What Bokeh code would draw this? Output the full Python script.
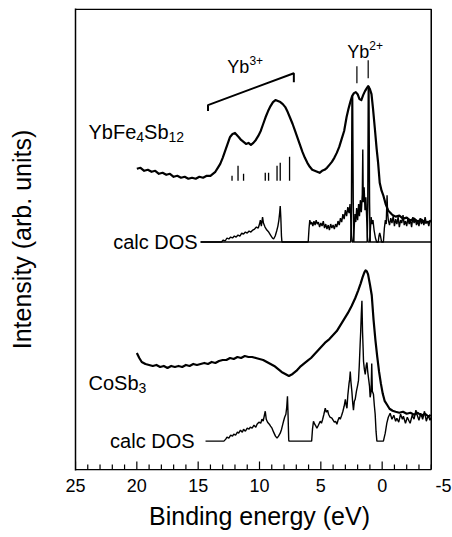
from bokeh.plotting import figure
from bokeh.models import Range1d, Label, FixedTicker
from bokeh.embed import file_html
from bokeh.resources import INLINE

# ---------------- data (binding energy in eV, intensity in arb. units) ----------------
ybfe_ev = [20.0, 19.7, 19.4, 19.1, 18.8, 18.5, 18.2, 17.9, 17.6, 17.3, 17.0, 16.7, 16.4, 16.1,
           15.8, 15.5, 15.2, 14.9, 14.6, 14.3, 14.0, 13.8, 13.6, 13.4, 13.2, 13.0, 12.8, 12.6,
           12.4, 12.2, 12.0, 11.85, 11.7, 11.5, 11.3, 11.1, 10.9, 10.7, 10.5, 10.3, 10.1, 9.9,
           9.7, 9.5, 9.3, 9.1, 8.9, 8.7, 8.5, 8.3, 8.1, 7.9, 7.7, 7.5, 7.3, 7.1, 6.9, 6.7, 6.5,
           6.3, 6.1, 5.9, 5.7, 5.5, 5.3, 5.1, 4.9, 4.7, 4.5, 4.3, 4.1, 3.9, 3.7, 3.5, 3.3, 3.1,
           2.9, 2.75, 2.6, 2.45, 2.3, 2.15, 2.0, 1.85, 1.7, 1.55, 1.4, 1.25, 1.14, 1.0, 0.87,
           0.75, 0.6, 0.45, 0.33, 0.2, 0.05, -0.1, -0.3, -0.5, -0.8, -1.1, -1.4, -1.7, -2.0,
           -2.3, -2.6, -2.9, -3.2, -3.5, -3.9]
ybfe_int = [302, 303, 300, 301, 299, 300, 297, 298, 296, 297, 294, 295, 293, 294,
            292, 293, 292, 294, 293, 295, 295, 297, 299, 303, 307, 313, 320, 327,
            334, 337, 338, 336, 334, 331, 329, 327, 328, 326, 328, 331, 335, 340,
            347, 354, 360, 365, 369, 371, 370, 369, 367, 364, 359, 353, 347, 340, 333, 326, 319,
            313, 308, 304, 301, 300, 299, 298, 300, 301, 303, 306, 309, 313, 318, 324, 332, 340,
            354, 362, 369, 375, 378, 379, 377, 372, 371, 376, 380, 383, 385, 382, 377,
            363, 343, 322, 308, 288, 280, 275, 266, 260, 256, 254, 255, 252, 253,
            250, 252, 249, 251, 248, 249]

ybfe_dos_ev = [14.8, 13.1, 12.95, 12.8, 12.65, 12.5, 12.35, 12.2, 12.05, 11.9, 11.75, 11.6, 11.45,
               11.3, 11.15, 11.0, 10.85, 10.7, 10.55, 10.4, 10.25, 10.1, 10.0, 9.93, 9.85, 9.75,
               9.68, 9.55, 9.4, 9.25, 9.1, 8.95, 8.85, 8.72, 8.6, 8.5, 8.42, 8.35, 8.31, 8.26,
               8.21, 8.17, 6.03, 5.96, 5.9, 5.82, 5.74, 5.65, 5.56, 5.47, 5.38, 5.29, 5.2, 5.1,
               5.0, 4.9, 4.8, 4.7, 4.6, 4.5, 4.4, 4.3, 4.2, 4.1, 4.0, 3.9, 3.8, 3.7, 3.6, 3.5,
               3.4, 3.3, 3.2, 3.1, 3.0, 2.9, 2.8, 2.7, 2.62, 2.55, 2.5, 2.45, 2.35, 2.3, 2.22,
               2.15, 2.08, 2.0, 1.92, 1.85, 1.78, 1.7, 1.62, 1.58, 1.54, 1.47, 1.4, 1.33, 1.25,
               1.2, 1.15, 1.02, 0.96, 0.9, 0.82, 0.75, 0.66, 0.55, 0.45, 0.32, 0.26, 0.2, 0.12,
               0.05, -0.1, -0.18, -0.26, -0.33, -0.4, -0.44, -0.5, -0.6, -0.7, -0.8, -0.9, -1.0,
               -1.1, -1.2, -1.3, -1.4, -1.5, -1.6, -1.7, -1.8, -1.9, -2.0, -2.1, -2.2, -2.3, -2.4,
               -2.5, -2.6, -2.7, -2.8, -2.9, -3.0, -3.1, -3.2, -3.3, -3.4, -3.5, -3.6, -3.7, -3.8,
               -3.9, -4.0]
ybfe_dos = [0, 0, 2, 1, 4, 3, 5, 4, 6, 5, 7, 6, 9,
            8, 10, 9, 11, 10, 12, 13, 15, 14, 18, 22, 16, 25,
            19, 15, 12, 10, 7, 4, 3, 6, 11, 16, 22, 30, 36, 24,
            6, 0, 0, 14, 22, 18, 20, 16, 21, 17, 22, 18, 20, 15,
            19, 16, 21, 14, 18, 13, 17, 12, 18, 14, 17, 13, 18, 15, 21, 17,
            24, 20, 28, 23, 32, 26, 35, 29, 38, 22, 8, 0, 0, 10, 28,
            20, 34, 22, 38, 26, 42, 30, 48, 93, 40, 55, 32, 45, 20,
            5, 0, 0, 12, 25, 18, 22, 12, 4, 0, 0, 6, 9, 5,
            0, 0, 14, 22, 18, 47, 30, 22, 17, 24, 19, 26, 16,
            23, 18, 25, 15, 22, 19, 27, 17, 21, 16, 24, 18, 22, 15,
            25, 19, 23, 17, 21, 16, 24, 18, 22, 17, 25, 19, 21, 16,
            22, 20]

ybfe_4f_ev = [14.8, 2.56, 2.5, 2.46, 2.41, 2.36, 2.31, 1.22, 1.17, 1.13, 1.08, 1.03, 0.98, -4.0]
ybfe_4f = [0, 0, 40, 146, 146, 40, 0, 0, 40, 156, 156, 40, 0, 0]

mult_ev = [12.24, 11.75, 11.3, 9.53, 9.26, 8.57, 8.31, 7.55]
mult_h = [5, 15, 7, 8, 8, 15, 18, 24]

cosb_ev = [20.0, 19.8, 19.6, 19.3, 19.0, 18.7, 18.4, 18.1, 17.8, 17.5, 17.2, 16.9, 16.6, 16.3,
           16.0, 15.7, 15.4, 15.1, 14.8, 14.5, 14.2, 13.9, 13.6, 13.3, 13.0, 12.7, 12.4, 12.1,
           11.8, 11.5, 11.2, 10.9, 10.6, 10.3, 10.0, 9.7, 9.4, 9.1, 8.8, 8.5, 8.2, 7.9, 7.6,
           7.3, 7.0, 6.7, 6.4, 6.1, 5.8, 5.5, 5.2, 4.9, 4.6, 4.3, 4.0, 3.7, 3.4, 3.1, 2.8, 2.5,
           2.2, 1.95, 1.75, 1.6, 1.45, 1.35, 1.25, 1.15, 1.0, 0.85, 0.7, 0.55, 0.4, 0.25, 0.1,
           -0.05, -0.2, -0.4, -0.6, -0.85, -1.1, -1.4, -1.7, -2.0, -2.3, -2.6, -2.9, -3.2, -3.5,
           -3.8, -3.95]
cosb_int = [117, 112, 108, 106, 105, 104, 105, 103, 104, 102, 104, 103, 104, 103,
            105, 104, 106, 105, 106, 107, 106, 108, 107, 109, 110, 110, 112, 111,
            113, 112, 114, 113, 113, 112, 111, 110, 108, 106, 104, 101, 98, 96, 94,
            96, 99, 103, 106, 109, 112, 116, 120, 124, 128, 131, 135, 139, 145, 151, 157, 164,
            172, 180, 187, 193, 198, 200, 199, 196, 186, 175, 150, 130, 113, 98, 86,
            76, 69, 65, 61, 59, 58, 57, 58, 56, 57, 55, 57, 54, 56,
            53, 55]

cosb_dos_ev = [14.4, 12.9, 12.75, 12.65, 12.5, 12.35, 12.2, 12.1, 11.95, 11.8, 11.7, 11.55, 11.4,
               11.3, 11.15, 11.0, 10.85, 10.75, 10.6, 10.45, 10.3, 10.2, 10.05, 9.9, 9.8, 9.7,
               9.6, 9.53, 9.45, 9.34, 9.2, 9.1, 8.98, 8.85, 8.7, 8.57, 8.45, 8.31, 8.2, 8.1, 8.04,
               7.95, 7.85, 7.78, 7.72, 7.68, 7.62, 7.6, 5.75, 5.68, 5.6, 5.5, 5.4, 5.32, 5.2, 5.05,
               4.95, 4.85, 4.75, 4.64, 4.55, 4.45, 4.37, 4.25, 4.1, 4.0, 3.9, 3.8, 3.69, 3.6, 3.5,
               3.42, 3.3, 3.2, 3.1, 3.0, 2.93, 2.87, 2.8, 2.7, 2.65, 2.6, 2.55, 2.47, 2.4, 2.34,
               2.27, 2.2, 2.1, 2.0, 1.93, 1.87, 1.8, 1.75, 1.7, 1.65, 1.6, 1.55, 1.52, 1.45, 1.38,
               1.3, 1.24, 1.18, 1.1, 1.03, 0.98, 0.9, 0.85, 0.8, 0.71, 0.64, 0.57, 0.5, 0.43, -0.1,
               -0.25, -0.38, -0.5, -0.65, -0.8, -0.95, -1.1, -1.2, -1.35, -1.5, -1.65, -1.73, -1.9,
               -2.05, -2.2, -2.28, -2.45, -2.6, -2.75, -2.83, -3.0, -3.15, -3.3, -3.45, -3.6, -3.75,
               -3.9, -4.0]
cosb_dos = [0, 0, 2, 4, 3, 6, 5, 7, 6, 9, 8, 11, 9,
            12, 10, 13, 12, 14, 13, 16, 14, 17, 19, 18, 22, 20,
            26, 30, 22, 19, 17, 15, 13, 9, 5, 3, 5, 8, 12, 17, 20,
            24, 27, 34, 45, 30, 2, 0, 0, 12, 20, 17, 15, 13, 16, 20,
            18, 22, 27, 33, 29, 31, 27, 24, 23, 21, 19, 20, 17, 21, 24,
            22, 26, 30, 35, 42, 36, 33, 46, 58, 62, 70, 60, 50, 38, 31,
            40, 42, 50, 56, 61, 75, 96, 110, 128, 141, 110, 92, 80, 72, 67,
            76, 79, 70, 62, 55, 44, 50, 78, 50, 47, 36, 27, 10, 0, 0,
            8, 18, 24, 28, 22, 26, 20, 23, 19, 27, 22, 25, 18,
            24, 20, 18, 26, 22, 31, 27, 21, 28, 22, 30, 20, 26,
            21, 24]

# axis: energy window drawn is 25 .. -4 eV; "-5" label sits just past the box
x_label_ticks = [25, 20, 15, 10, 5, 0, -5]
x_label_text = ["25", "20", "15", "10", "5", "0", "-5"]
x_major_marks = [25, 20, 15, 10, 5, 0]
x_minor_marks = [v for v in range(-4, 25) if v % 5 != 0]
X_LEFT, X_RIGHT = 25, -4
Y_BOTTOM, Y_TOP = 0, 462

# annotation marks
yb3_bracket_ev = [14.2, 14.2, 7.2, 7.2]
yb3_bracket_y = [360, 366, 398, 389]
yb2_ev = [2.06, 1.14]
yb2_y0 = [388, 393]
yb2_y1 = [405, 411]

# layout offsets (baselines of the stacked traces)
TOP_DOS_BASE = 228.5
BOT_DOS_BASE = 28.5
MULT_BASE = 290
MAJOR_LEN = 8
MINOR_LEN = 5

FONT = "Liberation Sans"

p = figure(width=452, height=537, output_backend="svg", toolbar_location=None,
           x_range=Range1d(25, -5), y_range=Range1d(-1, 463),
           min_border_left=75, min_border_right=9, min_border_top=8, min_border_bottom=67)
p.grid.visible = False
p.outline_line_color = None
p.background_fill_color = "white"
p.border_fill_color = "white"

xa = p.xaxis[0]
xa.ticker = FixedTicker(ticks=x_label_ticks, minor_ticks=[])
xa.major_label_overrides = dict(zip(x_label_ticks, x_label_text))
xa.major_tick_line_color = None
xa.minor_tick_line_color = None
xa.major_tick_in = 0
xa.major_tick_out = 0
xa.axis_line_color = None
xa.major_label_standoff = 8
xa.major_label_text_font = FONT
xa.major_label_text_font_size = "18px"
xa.major_label_text_color = "black"
xa.axis_label = "Binding energy (eV)"
xa.axis_label_text_font = FONT
xa.axis_label_text_font_size = "25px"
xa.axis_label_text_font_style = "normal"
xa.axis_label_text_color = "black"
xa.axis_label_standoff = 7

ya = p.yaxis[0]
ya.ticker = FixedTicker(ticks=[])
ya.major_tick_line_color = None
ya.minor_tick_line_color = None
ya.axis_line_width = 1.5
ya.axis_line_color = "black"
ya.axis_label = "Intensity (arb. units)"
ya.axis_label_text_font = FONT
ya.axis_label_text_font_size = "25px"
ya.axis_label_text_font_style = "normal"
ya.axis_label_text_color = "black"
ya.axis_label_standoff = 40

# box: bottom axis line, top and right borders, inward ticks
p.line([X_LEFT, X_RIGHT], [Y_BOTTOM - 0.2, Y_BOTTOM - 0.2], line_color="black", line_width=1.5)
p.line([X_LEFT, X_RIGHT, X_RIGHT], [Y_TOP + 0.2, Y_TOP + 0.2, Y_BOTTOM], line_color="black",
       line_width=1.5)
p.segment(x0=x_major_marks, x1=x_major_marks, y0=[Y_BOTTOM] * len(x_major_marks),
          y1=[Y_BOTTOM + MAJOR_LEN] * len(x_major_marks), line_color="black", line_width=1.2)
p.segment(x0=x_minor_marks, x1=x_minor_marks, y0=[Y_BOTTOM] * len(x_minor_marks),
          y1=[Y_BOTTOM + MINOR_LEN] * len(x_minor_marks), line_color="black", line_width=1.2)

# spectra
p.line(ybfe_ev, ybfe_int, line_color="black", line_width=2.2, line_join="round")
p.line(cosb_ev, cosb_int, line_color="black", line_width=2.2, line_join="round")

# calculated DOS
p.line(ybfe_dos_ev, [TOP_DOS_BASE + v for v in ybfe_dos], line_color="black", line_width=1.4)
p.line(ybfe_4f_ev, [TOP_DOS_BASE + v for v in ybfe_4f], line_color="black", line_width=1.5)
p.line(cosb_dos_ev, [BOT_DOS_BASE + v for v in cosb_dos], line_color="black", line_width=1.4)

# Yb3+ multiplet sticks
p.segment(x0=mult_ev, x1=mult_ev, y0=[MULT_BASE] * len(mult_ev),
          y1=[MULT_BASE + h for h in mult_h], line_color="black", line_width=1.3)

# Yb3+ bracket and Yb2+ markers
p.line(yb3_bracket_ev, yb3_bracket_y, line_color="black", line_width=2)
p.segment(x0=yb2_ev, x1=yb2_ev, y0=yb2_y0, y1=yb2_y1, line_color="black", line_width=1.2)

AW = {'Y': 0.667, 'b': 0.556, 'F': 0.611, 'e': 0.556, 'S': 0.667, 'C': 0.722, 'o': 0.556,
      '1': 0.556, '2': 0.556, '3': 0.556, '4': 0.556, '+': 0.584}


def rich(x, y, parts, size, small):
    off = 0.0
    for txt, kind in parts:
        fs = size if kind == "n" else small
        dy = 0 if kind == "n" else (-5 if kind == "sub" else 7)
        p.add_layout(Label(x=x, y=y, x_offset=off, y_offset=dy, text=txt,
                           text_font=FONT, text_font_size=f"{fs}px", text_color="black",
                           text_align="left", text_baseline="alphabetic"))
        off += sum(AW[c] for c in txt) * fs


rich(23.94, 339, [("YbFe", "n"), ("4", "sub"), ("Sb", "n"), ("12", "sub")], 20, 14)
rich(23.94, 87, [("CoSb", "n"), ("3", "sub")], 20, 14)
rich(12.62, 404, [("Yb", "n"), ("3+", "sup")], 18, 12)
rich(2.85, 419, [("Yb", "n"), ("2+", "sup")], 18, 12)

p.add_layout(Label(x=ybfe_dos_ev[0], y=TOP_DOS_BASE, x_offset=-3, text="calc DOS",
                   text_align="right", text_baseline="middle", text_font=FONT,
                   text_font_size="20px", text_color="black"))
p.add_layout(Label(x=cosb_dos_ev[0], y=BOT_DOS_BASE, x_offset=-11, text="calc DOS",
                   text_align="right", text_baseline="middle", text_font=FONT,
                   text_font_size="20px", text_color="black"))

open("out.html", "w").write(file_html(p, INLINE))
